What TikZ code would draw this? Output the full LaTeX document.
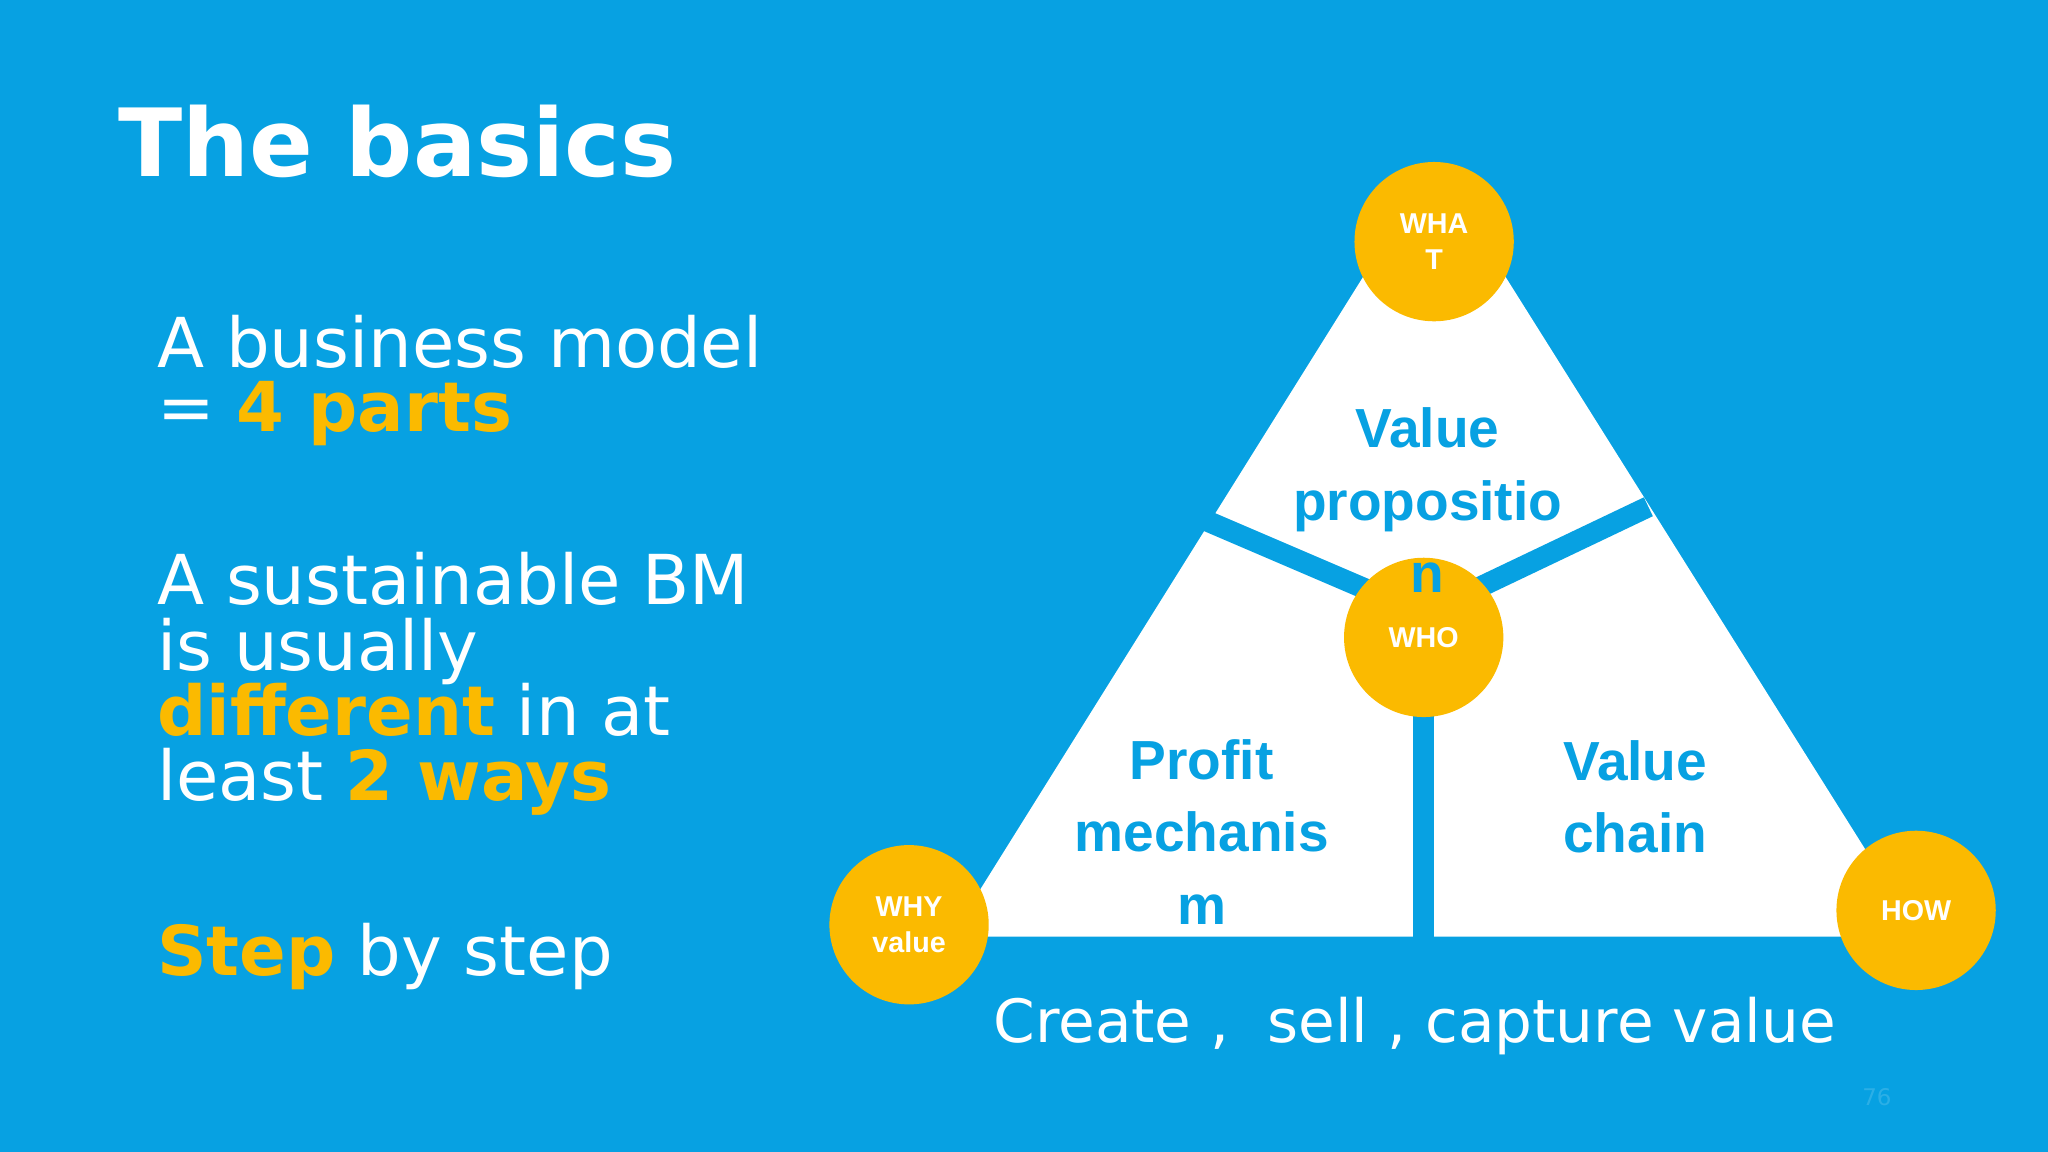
\documentclass[tikz,border=0pt]{standalone}
\usepackage{fontspec}
\setmainfont{DejaVu Sans}
\newfontfamily\arialf{Liberation Sans}
\definecolor{bg}{HTML}{07A1E2}
\definecolor{gold}{HTML}{FBBA00}
\tikzset{
 circ/.style={circle,fill=gold,minimum size=2.44cm,inner sep=0pt,text=white,font=\arialf\bfseries\fontsize{12.5}{15.5}\selectfont,align=center},
 lbl/.style={text=bg,font=\arialf\bfseries\fontsize{24}{31.5}\selectfont,align=center},
 lt/.style={anchor=base west,text=white,font=\fontsize{30}{36}\selectfont,inner sep=0pt},
 divl/.style={draw=bg,line width=0.32cm}
}
\begin{document}
\begin{tikzpicture}[x=0.02cm,y=-0.02cm]
\fill[bg] (0,0) rectangle (1568,882);
\useasboundingbox (0,0) rectangle (1568,882);
\node[lt,font=\bfseries\fontsize{41}{50}\selectfont] (title) at (90,135) {The basics};
\node[lt] (l1) at (120,281) {A business model};
\node[lt] (l2) at (120,330) {= \textcolor{gold}{\bfseries 4 parts}};
\node[lt] (l3) at (120,463) {A sustainable BM};
\node[lt] (l4) at (120,513) {is usually};
\node[lt] (l5) at (120,563) {\textcolor{gold}{\bfseries different} in at};
\node[lt] (l6) at (120,613) {least \textcolor{gold}{\bfseries 2 ways}};
\node[lt] (l7) at (120,747) {\textcolor{gold}{\bfseries Step} by step};
% triangle
\coordinate (tl) at (728,717);
\coordinate (tt) at (1098,125);
\coordinate (tr) at (1470,717);
\fill[white] (tl) -- (tt) -- (tr) -- cycle;
\coordinate (c) at (1090,470);
\coordinate (d1) at (922,398);
\coordinate (d2) at (1262,388);
\coordinate (d3) at (1090,717);
\draw[divl] (d1) -- (c);
\draw[divl] (d2) -- (c);
\draw[divl] (c) -- (d3);
\node[circ] (what) at (1098,185) {WHA\\T};
\node[circ] (who) at (1090,488) {WHO};
\node[circ] (why) at (696,708) {WHY\\value};
\node[circ] (how) at (1467,697) {HOW};
\node[lbl] (vp) at (1093,383) {Value\\propositio\\n};
\node[lbl] (pm) at (920,637) {Profit\\mechanis\\m};
\node[lbl] (vc) at (1252,610) {Value\\chain};
\node[anchor=base,text=white,font=\fontsize{26}{30}\selectfont] (cap) at (1083,798) {Create ,\ \ sell , capture value};
\node[text=white,opacity=0.15,font=\fontsize{10}{12}\selectfont] (pg) at (1437,840) {76};
\end{tikzpicture}
\end{document}
